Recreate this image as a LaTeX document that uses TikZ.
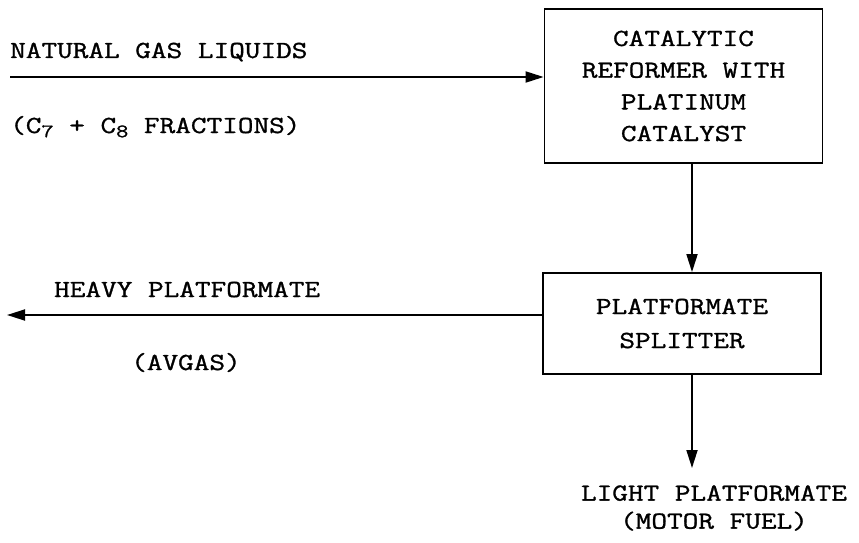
\documentclass[tikz,border=0pt]{standalone}
\usepackage{fontspec}
\setmonofont[FakeStretch=1.24,FakeBold=1.2]{Latin Modern Mono}
\usetikzlibrary{arrows.meta}
\newcommand{\subd}[1]{\raisebox{-0.4ex}{\fontsize{19}{19}\selectfont #1}}
\begin{document}
\begin{tikzpicture}[x=1pt,y=-1pt,
  every node/.style={font=\ttfamily\fontsize{24.5}{30}\selectfont, inner sep=0pt},
  procbox/.style={draw, line width=1.8pt, align=center},
  flow/.style={line width=1.8pt, -{Triangle[length=18pt,width=11pt]}},
  lbl/.style={anchor=base west}]
\useasboundingbox (0,0) rectangle (859,543);
\node[procbox, minimum width=278pt, minimum height=154pt,
  font=\ttfamily\fontsize{24.5}{31.7}\selectfont] (ref) at (683.5,86)
  {CATALYTIC\\REFORMER WITH\\PLATINUM\\CATALYST};
\node[procbox, minimum width=278pt, minimum height=101pt,
  font=\ttfamily\fontsize{24.5}{34}\selectfont] (spl) at (682,323.5)
  {PLATFORMATE\\SPLITTER};
\coordinate (inA) at (10,77);
\coordinate (outH) at (7,315);
\coordinate (outL) at (692,468);
\draw[flow] (inA) -- (inA -| ref.west);
\draw[flow] (ref.south -| 692,0) -- (spl.north -| 692,0);
\draw[flow] (spl.west |- outH) -- (outH);
\draw[flow] (spl.south -| outL) -- (outL);
\node[lbl] (t1) at (10,58) {NATURAL GAS LIQUIDS};
\node[lbl] (t2) at (10,133) {(C\subd{7} + C\subd{8} FRACTIONS)};
\node[lbl] (t3) at (54,297) {HEAVY PLATFORMATE};
\node[lbl] (t4) at (131,370) {(AVGAS)};
\node[align=center, font=\ttfamily\fontsize{24.5}{28}\selectfont] (t5) at (714,508)
  {LIGHT PLATFORMATE\\(MOTOR FUEL)};
\end{tikzpicture}
\end{document}
